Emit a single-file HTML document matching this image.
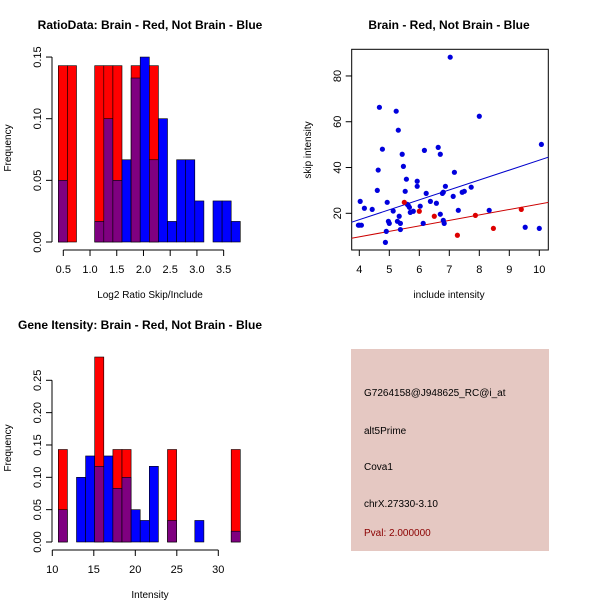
<!DOCTYPE html>
<html><head><meta charset="utf-8"><style>
body{margin:0;background:#fff}
svg{display:block;font-family:"Liberation Sans",Arial,sans-serif}
</style></head><body>
<svg id="c" width="600" height="600" xmlns="http://www.w3.org/2000/svg"></svg>
<script>
// Ratio histogram data (20 bins)
const ratioRed=[0.143,0.143,0,0,0.143,0.143,0.143,0,0.143,0,0.143,0,0,0,0,0,0,0,0,0];
const ratioBlue=[0.05,0,0,0,0.0167,0.1,0.05,0.0667,0.133,0.15,0.0667,0.1,0.0167,0.0667,0.0667,0.0333,0,0.0333,0.0333,0.0167];
const ratioXTicks=["0.5","1.0","1.5","2.0","2.5","3.0","3.5"];
const ratioYTicks=["0.00","0.05","0.10","0.15"];
// Intensity histogram data (20 bins)
const intRed=[0.143,0,0,0,0.286,0,0.143,0.143,0,0,0,0,0.143,0,0,0,0,0,0,0.143];
const intBlue=[0.05,0,0.1,0.133,0.117,0.133,0.083,0.1,0.05,0.0333,0.117,0,0.0333,0,0,0.0333,0,0,0,0.0167];
const intXTicks=["10","15","20","25","30"];
const intYTicks=["0.00","0.05","0.10","0.15","0.20","0.25"];
// Scatter data
const blueX=[3.97,4.0,4.07,4.03,4.17,4.43,4.6,4.63,4.67,4.77,4.93,4.9,4.87,4.97,5.0,5.13,5.23,5.27,5.3,5.33,5.37,5.37,5.43,5.47,5.53,5.57,5.6,5.63,5.67,5.7,5.8,5.93,5.93,6.03,6.13,6.17,6.23,6.37,6.57,6.63,6.7,6.7,6.77,6.8,6.8,6.83,6.87,7.03,7.13,7.17,7.3,7.43,7.5,7.73,8.0,8.33,9.53,10.0,10.07];
const blueY=[14.8,14.8,14.8,25.2,22.2,21.7,30,38.9,66.3,48,24.8,12.1,7.3,16.5,15.6,21,64.6,16.5,56.3,18.7,15.6,12.9,45.8,40.5,29.6,34.9,23.9,23.5,22.6,20.4,20.9,34,31.8,23.1,15.6,47.5,28.7,25.2,24.4,48.8,45.8,19.6,28.7,29.2,16.9,15.6,31.8,88.2,27.4,37.9,21.3,29.2,29.6,31.4,62.4,21.3,13.9,13.4,50.1];
const redX=[5.5,6.0,6.5,7.27,7.87,8.47,9.4];
const redY=[24.8,20.9,18.7,10.4,19.1,13.4,21.7];
const blueFit=[-0.1,4.33];
const redFit=[0.16,2.39];
const scXTicks=[4,5,6,7,8,9,10];
const scYTicks=[20,40,60,80];

const svg=document.getElementById('c');
const NS='http://www.w3.org/2000/svg';
function mk(tag,attrs,parent){const e=document.createElementNS(NS,tag);for(const k in attrs)e.setAttribute(k,attrs[k]);(parent||svg).appendChild(e);return e;}
function txt(s,x,y,attrs){const e=mk('text',Object.assign({x:x,y:y,'font-size':11,'text-anchor':'middle',fill:'#000'},attrs||{}));e.textContent=s;return e;}

function hist(g,red,blue,x0,x1,y0,pxPerUnit){
  const n=red.length,w=(x1-x0)/n;
  for(let i=0;i<n;i++){
    const x=x0+i*w;
    const r=red[i],b=blue[i],m=Math.min(r,b);
    if(r>0){const e=mk('rect',{x:x,y:y0-r*pxPerUnit,width:w,height:r*pxPerUnit,fill:'#ff0000',stroke:'#000','stroke-width':0.6},g);
      }
    if(b>r){const e=mk('rect',{x:x,y:y0-b*pxPerUnit,width:w,height:b*pxPerUnit,fill:'#0000ff',stroke:'#000','stroke-width':0.6},g);
      }
    if(m>0){const e=mk('rect',{x:x,y:y0-m*pxPerUnit,width:w,height:m*pxPerUnit,fill:'#7f0080',stroke:'#000','stroke-width':0.6},g);
      }
  }
}

// ---------- Panel 1 ----------
{
  const g=mk('g',{});
  const y0=242,ppu=1233;
  hist(g,ratioRed,ratioBlue,58.3,240.3,y0,ppu);
  // y axis
  mk('line',{x1:52,y1:y0,x2:52,y2:y0-0.15*ppu,stroke:'#000'},g);
  ratioYTicks.forEach(t=>{const y=y0-parseFloat(t)*ppu;mk('line',{x1:46,y1:y,x2:52,y2:y,stroke:'#000'},g);
    const e=txt(t,41,y,{transform:`rotate(-90 41 ${y})`});});
  // x axis
  const xs=v=>63.3+(v-0.5)*53.45;
  mk('line',{x1:xs(0.5),y1:250,x2:xs(3.5),y2:250,stroke:'#000'},g);
  ratioXTicks.forEach(t=>{const x=xs(parseFloat(t));mk('line',{x1:x,y1:250,x2:x,y2:256,stroke:'#000'},g);
    const e=txt(t,x,273);});
  let e=txt('RatioData: Brain - Red, Not Brain - Blue',150,29,{'font-weight':'bold','font-size':12});
  e=txt('Log2 Ratio Skip/Include',150,298,{'font-size':10});
  e=txt('Frequency',11,148,{'font-size':10,transform:'rotate(-90 11 148)'});
}

// ---------- Panel 2: scatter ----------
{
  const g=mk('g',{});
  const L=351.7,R=548.3,T=49.3,B=250;
  const sx=v=>359.3+(v-4)*30, sy=v=>213.3-(v-20)*2.289;
  mk('rect',{x:L,y:T,width:R-L,height:B-T,fill:'none',stroke:'#000'},g);
  scXTicks.forEach(t=>{const x=sx(t);mk('line',{x1:x,y1:B,x2:x,y2:B+6,stroke:'#000'},g);
    const e=txt(String(t),x,273);});
  scYTicks.forEach(t=>{const y=sy(t);mk('line',{x1:L-6,y1:y,x2:L,y2:y,stroke:'#000'},g);
    const e=txt(String(t),341,y,{transform:`rotate(-90 341 ${y})`});});
  const clip=mk('clipPath',{id:'scclip'},g);mk('rect',{x:L,y:T,width:R-L,height:B-T},clip);
  const lg=mk('g',{'clip-path':'url(#scclip)'},g);
  [[blueFit,'#0000cc','blue-fit-line'],[redFit,'#cc0000','red-fit-line']].forEach(([f,c,n])=>{
    const e=mk('line',{x1:sx(3.5),y1:sy(f[0]+f[1]*3.5),x2:sx(10.5),y2:sy(f[0]+f[1]*10.5),stroke:c,'stroke-width':1},lg);
    });
  blueX.forEach((v,i)=>{const e=mk('circle',{cx:sx(v),cy:sy(blueY[i]),r:2.6,fill:'#0000dd'},g);
    });
  redX.forEach((v,i)=>{const e=mk('circle',{cx:sx(v),cy:sy(redY[i]),r:2.6,fill:'#dd0000'},g);
    });
  let e=txt('Brain - Red, Not Brain - Blue',449,29,{'font-weight':'bold','font-size':12});
  e=txt('include intensity',449,298,{'font-size':10});
  e=txt('skip intensity',311,150,{'font-size':10,transform:'rotate(-90 311 150)'});
}

// ---------- Panel 3 ----------
{
  const g=mk('g',{});
  const y0=542,ppu=646.8;
  hist(g,intRed,intBlue,58.3,240.3,y0,ppu);
  mk('line',{x1:52,y1:y0,x2:52,y2:y0-0.25*ppu,stroke:'#000'},g);
  intYTicks.forEach(t=>{const y=y0-parseFloat(t)*ppu;mk('line',{x1:46,y1:y,x2:52,y2:y,stroke:'#000'},g);
    const e=txt(t,41,y,{transform:`rotate(-90 41 ${y})`});});
  const xs=v=>52.3+(v-10)*8.3;
  mk('line',{x1:xs(10),y1:550,x2:xs(30),y2:550,stroke:'#000'},g);
  intXTicks.forEach(t=>{const x=xs(parseFloat(t));mk('line',{x1:x,y1:550,x2:x,y2:556,stroke:'#000'},g);
    const e=txt(t,x,573);});
  let e=txt('Gene Itensity: Brain - Red, Not Brain - Blue',140,329,{'font-weight':'bold','font-size':12});
  e=txt('Intensity',150,598,{'font-size':10});
  e=txt('Frequency',11,448,{'font-size':10,transform:'rotate(-90 11 448)'});
}

// ---------- Panel 4: info box ----------
{
  const g=mk('g',{});
  mk('rect',{x:351,y:349,width:198,height:202,fill:'#e5c8c2'},g);
  const lines=[['G7264158@J948625_RC@i_at',396,'#000','probe-id'],['alt5Prime',434,'#000','event-type'],['Cova1',470,'#000','gene-name'],['chrX.27330-3.10',507,'#000','location'],['Pval: 2.000000',536,'#8b0000','p-value']];
  lines.forEach(([s,y,c,n])=>{const e=txt(s,364,y,{'text-anchor':'start','font-size':10,fill:c});});
}
</script>
</body></html>
